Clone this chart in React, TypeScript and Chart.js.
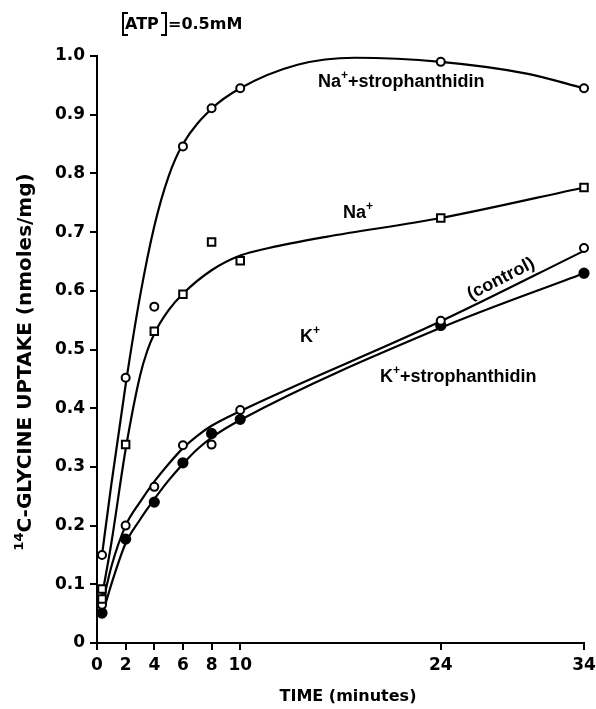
import React, { useEffect, useRef } from "react";
import { Chart, registerables } from "chart.js";

Chart.register(...registerables);

// ---- data ----
const xTicks = [0, 2, 4, 6, 8, 10, 24, 34];

// measured points
const naStrPtsX = [0.35, 2, 4, 6, 8, 10, 24, 34];
const naStrPtsY = [0.15, 0.452, 0.573, 0.846, 0.911, 0.945, 0.99, 0.945];

const naPtsX = [0.35, 0.35, 2, 4, 6, 8, 10, 24, 34];
const naPtsY = [0.092, 0.075, 0.338, 0.531, 0.594, 0.683, 0.651, 0.724, 0.776];

const kCtlPtsX = [0.35, 2, 4, 6, 8, 10, 24, 34];
const kCtlPtsY = [0.065, 0.2, 0.266, 0.337, 0.338, 0.397, 0.549, 0.673];

const kStrPtsX = [0.35, 2, 4, 6, 8, 10, 24, 34];
const kStrPtsY = [0.051, 0.177, 0.24, 0.307, 0.357, 0.381, 0.541, 0.63];

// fitted curves
const naStrCurveX = [0.35, 1, 2, 3, 4, 5, 6, 8, 10, 14, 18, 24, 30, 34];
const naStrCurveY = [0.15, 0.27, 0.44, 0.59, 0.71, 0.795, 0.85, 0.91, 0.945, 0.985, 0.997, 0.99, 0.97, 0.945];

const naCurveX = [0.35, 1, 2, 3, 3.5, 4, 5, 6, 8, 10, 12, 16, 24, 34];
const naCurveY = [0.08, 0.17, 0.33, 0.455, 0.497, 0.527, 0.567, 0.595, 0.635, 0.66, 0.673, 0.692, 0.724, 0.776];

const kCtlCurveX = [0.35, 1, 2, 3, 4, 5, 6, 7, 8, 10, 24, 34];
const kCtlCurveY = [0.062, 0.13, 0.2, 0.24, 0.275, 0.305, 0.332, 0.353, 0.37, 0.395, 0.548, 0.668];

const kStrCurveX = [0.35, 1, 2, 3, 4, 5, 6, 7, 8, 10, 24, 34];
const kStrCurveY = [0.046, 0.1, 0.17, 0.21, 0.245, 0.277, 0.305, 0.33, 0.35, 0.38, 0.537, 0.63];

const zip = (xs: number[], ys: number[]) => xs.map((x, i) => ({ x, y: ys[i] }));

const LBL = "'Liberation Sans', Arial, sans-serif";
const AX = "'DejaVu Sans', sans-serif";

type Run = { t: string; size: number; dy?: number; family?: string };

function drawRuns(ctx: CanvasRenderingContext2D, runs: Run[], x: number, y: number) {
  let cx = x;
  for (const r of runs) {
    ctx.font = `bold ${r.size}px ${r.family || LBL}`;
    ctx.fillText(r.t, cx, y + (r.dy || 0));
    cx += ctx.measureText(r.t).width;
  }
}
function runsWidth(ctx: CanvasRenderingContext2D, runs: Run[]) {
  let w = 0;
  for (const r of runs) {
    ctx.font = `bold ${r.size}px ${r.family || LBL}`;
    w += ctx.measureText(r.t).width;
  }
  return w;
}

const textPlugin = {
  id: "texts",
  afterDraw(chart: any) {
    const ctx: CanvasRenderingContext2D = chart.ctx;
    ctx.save();
    ctx.fillStyle = "#000";
    ctx.strokeStyle = "#000";
    ctx.textBaseline = "alphabetic";
    ctx.textAlign = "left";

    // [ATP]=0.5mM
    ctx.lineWidth = 2;
    ctx.beginPath();
    ctx.moveTo(128, 13); ctx.lineTo(123, 13); ctx.lineTo(123, 35); ctx.lineTo(128, 35);
    ctx.moveTo(161, 13); ctx.lineTo(166, 13); ctx.lineTo(166, 35); ctx.lineTo(161, 35);
    ctx.stroke();
    drawRuns(ctx, [{ t: "ATP", size: 16, family: AX }], 125, 29);
    drawRuns(ctx, [{ t: "=0.5mM", size: 16, family: AX }], 168, 29);

    // curve labels
    drawRuns(ctx, [{ t: "Na", size: 18 }, { t: "+", size: 12, dy: -8 }, { t: "+strophanthidin", size: 18 }], 318, 87);
    drawRuns(ctx, [{ t: "Na", size: 18 }, { t: "+", size: 12, dy: -8 }], 343, 218);
    drawRuns(ctx, [{ t: "K", size: 18 }, { t: "+", size: 12, dy: -8 }], 300, 342);
    drawRuns(ctx, [{ t: "K", size: 18 }, { t: "+", size: 12, dy: -8 }, { t: "+strophanthidin", size: 18 }], 380, 382);

    // (control), rotated
    ctx.save();
    ctx.translate(501, 279);
    ctx.rotate((-27 * Math.PI) / 180);
    ctx.font = `bold 18px ${LBL}`;
    ctx.textAlign = "center";
    ctx.textBaseline = "middle";
    ctx.fillText("(control)", 0, 0);
    ctx.restore();

    // y title
    ctx.save();
    ctx.translate(31, 362);
    ctx.rotate(-Math.PI / 2);
    const yRuns: Run[] = [
      { t: "14", size: 13, dy: -8, family: AX },
      { t: "C-GLYCINE UPTAKE (nmoles/mg)", size: 20, family: AX },
    ];
    const w = runsWidth(ctx, yRuns);
    drawRuns(ctx, yRuns, -w / 2, 0);
    ctx.restore();

    // x title
    ctx.font = `bold 16px ${AX}`;
    ctx.textAlign = "center";
    ctx.fillText("TIME (minutes)", 348, 701);

    ctx.restore();
  },
};

export default function App() {
  const ref = useRef<HTMLCanvasElement>(null);
  useEffect(() => {
    if (!ref.current) return;
    const curve = (xs: number[], ys: number[]) => ({
      type: "line" as const,
      data: zip(xs, ys),
      borderColor: "#000",
      borderWidth: 2.2,
      pointRadius: 0,
      showLine: true,
      fill: false,
      clip: false,
      cubicInterpolationMode: "monotone" as const,
      order: 2,
    });
    const marks = (xs: number[], ys: number[], style: string, filled: boolean, r: number) => ({
      type: "scatter" as const,
      data: zip(xs, ys),
      showLine: false,
      clip: false,
      pointStyle: style,
      pointRadius: r,
      pointBackgroundColor: filled ? "#000" : "#fff",
      pointBorderColor: "#000",
      pointBorderWidth: 2,
      order: 1,
    });
    const chart = new Chart(ref.current, {
      type: "scatter",
      data: {
        datasets: [
          curve(naStrCurveX, naStrCurveY),
          curve(naCurveX, naCurveY),
          curve(kCtlCurveX, kCtlCurveY),
          curve(kStrCurveX, kStrCurveY),
          marks(naStrPtsX, naStrPtsY, "circle", false, 4),
          marks(naPtsX, naPtsY, "rect", false, 5.3),
          marks(kCtlPtsX, kCtlPtsY, "circle", false, 4),
          marks(kStrPtsX, kStrPtsY, "circle", true, 4.6),
        ] as any,
      },
      options: {
        animation: false,
        responsive: false,
        events: [],
        layout: { padding: { top: 56, right: 12, left: 0, bottom: 0 } },
        plugins: { legend: { display: false }, tooltip: { enabled: false } },
        scales: {
          x: {
            type: "linear",
            min: 0,
            max: 34,
            afterBuildTicks: (s: any) => {
              s.ticks = xTicks.map((v) => ({ value: v }));
            },
            afterFit: (s: any) => {
              s.height = 66;
              s.paddingLeft = 0;
              s.paddingRight = 0;
            },
            border: { display: true, color: "#000", width: 2 },
            grid: { display: true, drawOnChartArea: false, drawTicks: true, tickLength: 7, color: "#000", lineWidth: 2 },
            ticks: {
              color: "#000",
              padding: 5,
              maxRotation: 0,
              autoSkip: false,
              font: { family: AX, size: 17, weight: "bold" },
              callback: (v: any) => String(v),
            },
          },
          y: {
            type: "linear",
            min: 0,
            max: 1.0,
            afterFit: (s: any) => {
              s.width = 97;
              s.paddingTop = 0;
              s.paddingBottom = 0;
            },
            border: { display: true, color: "#000", width: 2 },
            grid: { display: true, drawOnChartArea: false, drawTicks: true, tickLength: 7, color: "#000", lineWidth: 2 },
            ticks: {
              color: "#000",
              stepSize: 0.1,
              padding: 5,
              font: { family: AX, size: 17, weight: "bold" },
              callback: (v: any) => (Math.abs(v) < 1e-9 ? "0" : Number(v).toFixed(1)),
            },
          },
        },
      } as any,
      plugins: [textPlugin],
    });
    return () => chart.destroy();
  }, []);
  return (
    <div style={{ position: "fixed", left: 0, top: 0, width: 596, height: 709, background: "#fff" }}>
      <canvas ref={ref} width={596} height={709} style={{ display: "block" }} />
    </div>
  );
}
